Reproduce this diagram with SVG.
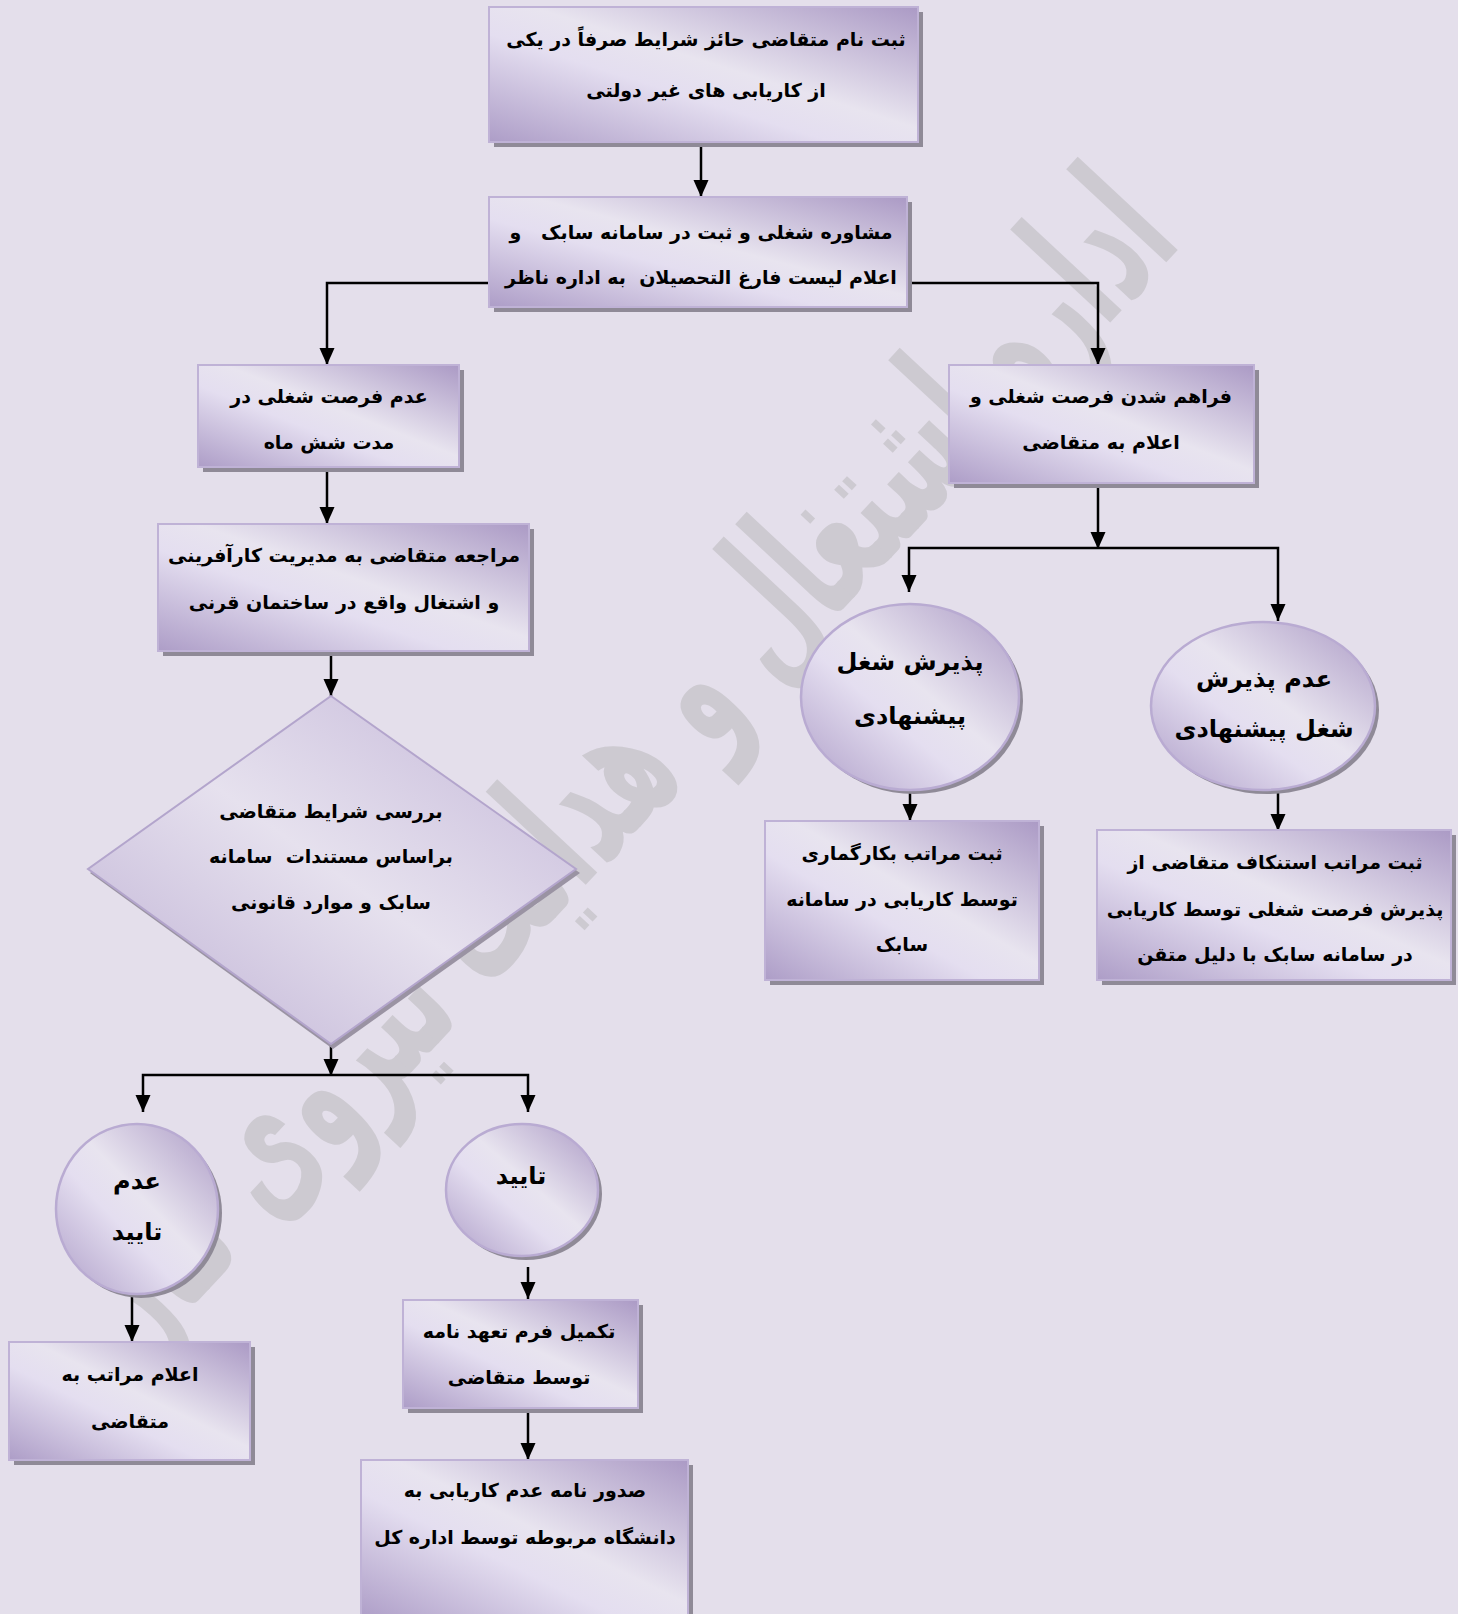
<svg xmlns="http://www.w3.org/2000/svg" width="1458" height="1614" viewBox="0 0 1458 1614">
<defs>
<linearGradient id="g" x1="1" y1="0" x2="0" y2="1">
<stop offset="0" stop-color="#ab9ac5"/>
<stop offset="0.45" stop-color="#e8e4ef"/>
<stop offset="0.6" stop-color="#e4def0"/>
<stop offset="1" stop-color="#ad9dc7"/>
</linearGradient>
<linearGradient id="gd" x1="1" y1="0" x2="0" y2="1">
<stop offset="0" stop-color="#c3b6d8"/>
<stop offset="0.5" stop-color="#e6e1ee"/>
<stop offset="1" stop-color="#bcaed3"/>
</linearGradient>
<marker id="ah" markerUnits="userSpaceOnUse" markerWidth="18" markerHeight="16" refX="17" refY="7.5" orient="auto">
<path d="M0,0 L17,7.5 L0,15 z" fill="#000"/>
</marker>
</defs>
<style>
.bg{fill:#e4dfeb}
.box{fill:url(#g);stroke:#bfb2d6;stroke-width:2}
.sh{fill:#8f8a97}
.ell{fill:url(#g);stroke:#b9abd2;stroke-width:2.5}
.t{font-family:"DejaVu Sans",sans-serif;font-size:19px;font-weight:bold;fill:#000;text-anchor:middle;white-space:pre}
.tb{font-family:"DejaVu Sans",sans-serif;font-size:24px;font-weight:bold;fill:#000;text-anchor:middle}
.c{fill:none;stroke:#000;stroke-width:2.5;marker-end:url(#ah)}
.wm{font-family:"DejaVu Sans",sans-serif;font-size:180px;font-weight:bold;fill:#cdcad1;text-anchor:middle}
</style>
<rect class="bg" x="0" y="0" width="1458" height="1614"/>
<text class="wm" transform="translate(665,800) rotate(-47)" textLength="1520" lengthAdjust="spacingAndGlyphs">اداره اشتغال و هدایت نیروی کار</text>

<g id="connectors">
<path class="c" d="M701,142 V197"/>
<path class="c" d="M489,283 H327 V365"/>
<path class="c" d="M907,283 H1098 V365"/>
<path class="c" d="M327,467 V524"/>
<path class="c" d="M331,651 V696"/>
<path class="c" d="M331,1044 V1076"/>
<path class="c" d="M331,1075 H143 V1112"/>
<path class="c" d="M331,1075 H528 V1112"/>
<path class="c" d="M132,1295 V1342"/>
<path class="c" d="M528,1267 V1299"/>
<path class="c" d="M528,1408 V1460"/>
<path class="c" d="M1098,483 V549"/>
<path class="c" d="M1098,548 H909 V592"/>
<path class="c" d="M1098,548 H1278 V621"/>
<path class="c" d="M910,791 V821"/>
<path class="c" d="M1278,791 V831"/>
</g>

<g id="n1">
<rect class="sh" x="494" y="12" width="429" height="135"/>
<rect class="box" x="489" y="7" width="429" height="135"/>
<text class="t" x="706" y="46">ثبت نام متقاضی حائز شرایط صرفاً در یکی</text>
<text class="t" x="706" y="97">از کاریابی های غیر دولتی</text>
</g>

<g id="n2">
<rect class="sh" x="494" y="202" width="418" height="110"/>
<rect class="box" x="489" y="197" width="418" height="110"/>
<text class="t" x="701" y="239" xml:space="preserve">مشاوره شغلی و ثبت در سامانه سابک   و</text>
<text class="t" x="701" y="284" xml:space="preserve">اعلام لیست فارغ التحصیلان  به اداره ناظر</text>
</g>

<g id="n3">
<rect class="sh" x="203" y="370" width="261" height="102"/>
<rect class="box" x="198" y="365" width="261" height="102"/>
<text class="t" x="329" y="403">عدم فرصت شغلی در</text>
<text class="t" x="329" y="449">مدت شش ماه</text>
</g>

<g id="n4">
<rect class="sh" x="163" y="529" width="371" height="127"/>
<rect class="box" x="158" y="524" width="371" height="127"/>
<text class="t" x="344" y="562">مراجعه متقاضی به مدیریت کارآفرینی</text>
<text class="t" x="344" y="609">و اشتغال واقع در ساختمان قرنی</text>
</g>

<g id="n5">
<polygon fill="#9a93a3" points="333,700 580,873 333,1049 90,873"/>
<polygon fill="url(#gd)" stroke="#b3a5cc" stroke-width="2" points="331,696 576,869 331,1044 88,869"/>
<text class="t" x="331" y="818">بررسی شرایط متقاضی</text>
<text class="t" x="331" y="863" xml:space="preserve">براساس مستندات  سامانه</text>
<text class="t" x="331" y="909">سابک و موارد قانونی</text>
</g>

<g id="n6">
<ellipse class="sh" cx="141" cy="1213" rx="81" ry="85"/>
<ellipse class="ell" cx="137" cy="1209" rx="81" ry="85"/>
<text class="tb" x="137" y="1189">عدم</text>
<text class="tb" x="137" y="1240">تایید</text>
</g>

<g id="n7">
<ellipse class="sh" cx="526" cy="1194" rx="76" ry="66"/>
<ellipse class="ell" cx="522" cy="1190" rx="76" ry="66"/>
<text class="tb" x="521" y="1184">تایید</text>
</g>

<g id="n8">
<rect class="sh" x="14" y="1347" width="241" height="118"/>
<rect class="box" x="9" y="1342" width="241" height="118"/>
<text class="t" x="130" y="1381">اعلام مراتب به</text>
<text class="t" x="130" y="1428">متقاضی</text>
</g>

<g id="n9">
<rect class="sh" x="408" y="1305" width="235" height="108"/>
<rect class="box" x="403" y="1300" width="235" height="108"/>
<text class="t" x="519" y="1338">تکمیل فرم تعهد نامه</text>
<text class="t" x="519" y="1384">توسط متقاضی</text>
</g>

<g id="n10">
<rect class="sh" x="366" y="1465" width="327" height="160"/>
<rect class="box" x="361" y="1460" width="327" height="160"/>
<text class="t" x="525" y="1497">صدور نامه عدم کاریابی به</text>
<text class="t" x="525" y="1544">دانشگاه مربوطه توسط اداره کل</text>
</g>

<g id="n11">
<rect class="sh" x="954" y="370" width="305" height="118"/>
<rect class="box" x="949" y="365" width="305" height="118"/>
<text class="t" x="1101" y="403">فراهم شدن فرصت شغلی و</text>
<text class="t" x="1101" y="449">اعلام به متقاضی</text>
</g>

<g id="n12">
<ellipse class="sh" cx="914" cy="701" rx="109" ry="93"/>
<ellipse class="ell" cx="910" cy="697" rx="109" ry="93"/>
<text class="tb" x="910" y="670">پذیرش شغل</text>
<text class="tb" x="910" y="724">پیشنهادی</text>
</g>

<g id="n13">
<ellipse class="sh" cx="1267" cy="710" rx="112" ry="84"/>
<ellipse class="ell" cx="1263" cy="706" rx="112" ry="84"/>
<text class="tb" x="1264" y="687">عدم پذیرش</text>
<text class="tb" x="1264" y="737">شغل پیشنهادی</text>
</g>

<g id="n14">
<rect class="sh" x="770" y="826" width="274" height="159"/>
<rect class="box" x="765" y="821" width="274" height="159"/>
<text class="t" x="902" y="860">ثبت مراتب بکارگماری</text>
<text class="t" x="902" y="906">توسط کاریابی در سامانه</text>
<text class="t" x="902" y="951">سابک</text>
</g>

<g id="n15">
<rect class="sh" x="1102" y="835" width="354" height="150"/>
<rect class="box" x="1097" y="830" width="354" height="150"/>
<text class="t" x="1275" y="869">ثبت مراتب استنکاف متقاضی از</text>
<text class="t" x="1275" y="916">پذیرش فرصت شغلی توسط کاریابی</text>
<text class="t" x="1275" y="961">در سامانه سابک با دلیل متقن</text>
</g>
</svg>
